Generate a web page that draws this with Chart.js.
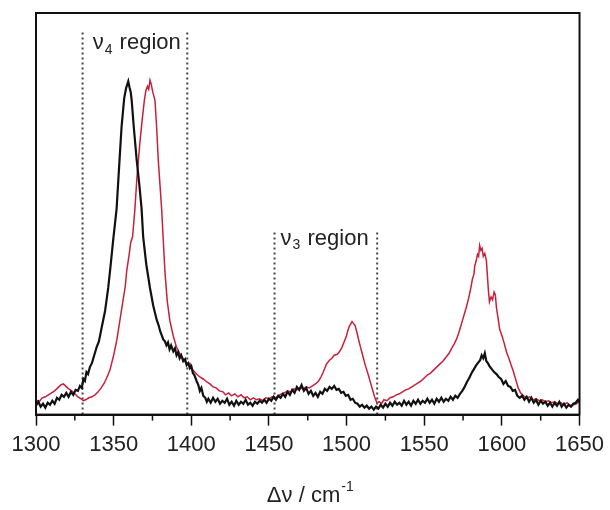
<!DOCTYPE html>
<html>
<head>
<meta charset="utf-8">
<script src="https://cdn.jsdelivr.net/npm/chart.js@4"></script>
<style>
  html, body { margin: 0; padding: 0; background: #fff; }
</style>
</head>
<body>
<canvas id="chart" width="610" height="510"></canvas>
<script>
// Raman-spektrit, arvot luettu kuvasta (mielivaltainen intensiteetti)
const blackX = [1300,1301.5,1303,1304.5,1306,1307.5,1309,1310.5,1312,1313.5,1315,1316.5,1318,1319.5,1321,1322.5,1324,1325.5,1327,1328.3,1329.5,1330.5,1331.5,1332.5,1333.5,1334.7,1336,1337.5,1339,1340.5,1342.3,1344.5,1346.5,1348,1349.8,1351.9,1353.5,1355.1,1356.8,1358,1358.8,1359.4,1360.2,1361,1361.6,1363,1364.8,1366.5,1368,1369,1371,1373.4,1375.5,1377.7,1379,1380,1381,1381.9,1383,1384,1385,1386,1387,1388.4,1389.5,1390.5,1391.5,1392.5,1393.5,1394.8,1396,1397,1398,1399.1,1400,1401,1402,1403.4,1404.5,1405.5,1406.5,1407.7,1409,1410,1411,1412.5,1414,1415.5,1417,1418.5,1420,1421.5,1423,1424.5,1426,1427.5,1429,1430.5,1432,1433.5,1435,1436.5,1438,1439.5,1441,1442.5,1444,1445.5,1447,1448.5,1450,1451.5,1453,1454.5,1456,1457.5,1459,1460.5,1462,1463.5,1465,1466.5,1468,1469.5,1471,1472.5,1474,1475.5,1477,1478.5,1480,1481.5,1483,1484.5,1486,1487.5,1489,1490.5,1492,1493.5,1495,1496.5,1498,1499.5,1501,1502.5,1504,1505.5,1507,1508.5,1510,1511.5,1513,1514.5,1516,1517.5,1519,1520.5,1522,1523.5,1525,1526.5,1528,1529.5,1531,1532.5,1534,1535.5,1537,1538.5,1540,1541.5,1543,1544.5,1546,1547.5,1549,1550.5,1552,1553.5,1555,1556.5,1558,1559.5,1561,1562.5,1564,1565.5,1567,1568.5,1570,1571.5,1573,1574.5,1576,1577.5,1579,1580.5,1582,1583.5,1585,1586,1587,1588,1589,1590,1591,1592,1593.5,1595,1596.5,1598,1599.5,1601,1602.5,1604,1605.5,1607,1608.5,1610,1611.5,1613,1614.5,1616,1617.5,1619,1620.5,1622,1623.5,1625,1626.5,1628,1629.5,1631,1632.5,1634,1635.5,1637,1638.5,1640,1641.5,1643,1644.5,1646,1647.5,1649,1650];
const blackY = [9,13,8,11,7,12,10,14,11,17,15,20,18,22,18,23,20,25,24,29,27,36,34,43,41,48,52,60,68,74,88,105,128,150,178,208,250,291,320,330,334,337,331,326,318,290,258,233,208,180,152,128,110,96,90,84,80,76,74,70,73,66,70,64,67,60,63,57,60,54,56,50,52,47,49,42,40,34,30,24,27,19,17,13,16,12,17,13,16,11,14,12,16,10,13,9,14,10,13,11,15,10,12,9,13,11,14,12,15,12,16,14,18,15,19,17,21,18,23,20,25,22,28,25,30,24,27,21,24,19,22,18,23,21,26,24,28,26,29,25,26,22,23,19,20,15,16,12,11,8,10,7,9,6,8,5,8,6,10,7,11,8,12,9,13,10,12,9,14,10,13,9,14,11,15,11,14,12,16,12,15,11,16,13,17,13,16,14,18,15,19,17,21,24,28,33,37,42,46,50,53,55,60,57,62,54,52,49,46,43,41,38,36,31,34,29,28,24,25,19,17,19,15,18,13,17,12,15,10,14,11,13,9,12,8,12,9,13,8,11,7,10,8,11,12,15,13];

const redX = [1300,1302,1304,1306,1308,1310,1312,1314,1316,1317.6,1319,1321,1323,1325,1327,1329,1330.4,1332,1334,1336,1338,1340,1342,1344,1345.5,1347.6,1350,1352,1354,1356,1357.5,1358.4,1360,1361,1362.2,1363.7,1365,1366.9,1368.5,1369.8,1370.8,1371.8,1372.6,1373.4,1374.2,1375.2,1376.6,1377.7,1378.7,1379.8,1380.9,1381.9,1383,1384.5,1386.2,1388.3,1390.5,1392.5,1395,1397,1399,1401,1403.4,1405.5,1407.7,1410,1412,1414,1416,1418,1420.4,1422,1424,1426,1428,1430,1432,1434,1436,1438,1440,1442,1444,1446,1448,1450,1452,1454,1456,1458,1460,1462,1464,1466,1468,1470,1472,1474,1476,1478,1480,1482,1483.5,1485,1487,1489,1490.5,1492,1494,1495.6,1497,1498.5,1500,1500.8,1502,1503.5,1504.5,1505.5,1506.5,1508.5,1510,1512,1514,1516,1518,1519.5,1521,1522.5,1524,1526,1528,1530,1532,1534,1536,1538,1540,1542,1544,1546,1548,1550,1552,1554,1556,1558,1560,1562,1564,1566,1568,1569.5,1571,1572.5,1574,1575.5,1577,1578.5,1580,1581,1582,1582.5,1583.5,1584.3,1585,1585.7,1586.5,1587.3,1588,1589,1590,1590.7,1591.3,1592,1593,1594,1595,1595.8,1596.5,1597.3,1598.6,1600,1601.5,1603,1604.5,1606,1607.5,1609,1610.5,1612,1614,1616,1618,1620,1622,1624,1626,1628,1630,1632,1634,1636,1638,1640,1642,1644,1646,1648,1650];
const redY = [15,13,17,18,20,22,24,27,30,31,29,26,24,21,18,16,14,15,17,18,20,23,27,32,37,45,60,75,95,115,130,145,162,174,180,208,240,275,300,318,328,332,329,338,334,326,318,290,258,233,208,178,145,115,95,80,68,62,56,51,52,45,41,38,36,33,31,28,27,24,23,20,22,19,21,18,20,17,18,15,17,15,16,14,17,16,18,17,19,21,22,24,23,26,25,27,26,28,27,29,31,34,38,43,51,55,57,60,61,64,68,74,80,85,90,94,92,90,84,71,62,50,40,29,18,12,13,11,15,14,17,18,20,21,23,25,26,28,30,32,34,37,40,42,45,48,51,54,58,62,68,72,77,84,92,100,108,117,128,137,142,150,156,162,160,171,166,168,160,163,156,140,126,114,119,116,124,121,108,100,86,80,72,63,57,50,43,35,27,22,19,17,18,15,16,14,15,13,14,12,13,11,12,10,12,9,10,11,13];

// Katkoviivat: alueiden rajat ja niiden yläpää
const regionBounds = [1330, 1397.4, 1453.6, 1519.7];
const regionTops = [389, 389, 187, 187];
// Alueiden nimet (ν + alaindeksi + " region")
const regionSubs = ['4', '3'];
const regionLabelX = [1336.5, 1457.5];
const regionLabelY = [376, 178];

const xTicks = [1300, 1350, 1400, 1450, 1500, 1550, 1600, 1650];

const FONT = '"Liberation Sans", Arial, sans-serif';

function toPoints(xs, ys) {
  return xs.map((x, i) => ({ x, y: ys[i] }));
}

const dotted = regionBounds.map((b, i) => ({
  data: [{ x: b, y: 0 }, { x: b, y: regionTops[i] }],
  borderColor: '#444',
  borderWidth: 2,
  borderDash: [2, 3],
  pointRadius: 0,
  order: 5
}));

// Kehys, pienet väliviivat, alueiden tekstit ja akselin otsikko
const decorations = {
  id: 'decorations',
  afterDraw(chart) {
    const { ctx, chartArea: a, scales: { x, y } } = chart;
    ctx.save();
    ctx.strokeStyle = '#111';
    ctx.lineWidth = 2;
    ctx.strokeRect(a.left, a.top, a.right - a.left, a.bottom - a.top);

    ctx.lineWidth = 1.5;
    for (let v = 1325; v < 1650; v += 50) {
      const px = x.getPixelForValue(v);
      ctx.beginPath();
      ctx.moveTo(px, a.bottom);
      ctx.lineTo(px, a.bottom + 6);
      ctx.stroke();
    }

    ctx.fillStyle = '#222';
    ctx.textBaseline = 'middle';
    regionSubs.forEach((sub, i) => {
      let px = x.getPixelForValue(regionLabelX[i]);
      const py = y.getPixelForValue(regionLabelY[i]);
      ctx.font = '22px ' + FONT;
      ctx.fillText('ν', px, py);
      px += ctx.measureText('ν').width + 1;
      ctx.font = '14px ' + FONT;
      ctx.fillText(sub, px, py + 7);
      px += ctx.measureText(sub).width + 1;
      ctx.font = '22px ' + FONT;
      ctx.fillText(' region', px, py);
    });

    // Akselin otsikko: Δν / cm⁻¹
    ctx.font = '22px ' + FONT;
    const main = 'Δν / cm';
    const wMain = ctx.measureText(main).width;
    ctx.font = '14px ' + FONT;
    const wSup = ctx.measureText('-1').width;
    const cx = (a.left + a.right) / 2 + 2;
    const startX = cx - (wMain + wSup) / 2;
    const ty = 496;
    ctx.font = '22px ' + FONT;
    ctx.fillText(main, startX, ty);
    ctx.font = '14px ' + FONT;
    ctx.fillText('-1', startX + wMain + 1, ty - 9);
    ctx.restore();
  }
};

new Chart(document.getElementById('chart').getContext('2d'), {
  type: 'line',
  data: {
    datasets: [
      {
        label: 'musta',
        data: toPoints(blackX, blackY),
        borderColor: '#111',
        borderWidth: 2.2,
        pointRadius: 0,
        tension: 0,
        order: 1
      },
      {
        label: 'punainen',
        data: toPoints(redX, redY),
        borderColor: '#c8203c',
        borderWidth: 1.5,
        pointRadius: 0,
        tension: 0,
        order: 2
      },
      ...dotted
    ]
  },
  options: {
    responsive: false,
    animation: false,
    layout: { padding: { left: 36, right: 30, top: 13, bottom: 46 } },
    plugins: {
      legend: { display: false },
      tooltip: { enabled: false }
    },
    scales: {
      x: {
        type: 'linear',
        min: 1300,
        max: 1650,
        afterBuildTicks: (axis) => { axis.ticks = xTicks.map(v => ({ value: v })); },
        ticks: {
          color: '#222',
          font: { family: FONT, size: 22 },
          padding: 6,
          maxRotation: 0,
          autoSkip: false,
          callback: (v) => String(v)
        },
        grid: {
          drawOnChartArea: false,
          tickLength: 11,
          tickColor: '#111',
          tickWidth: 1.5
        },
        border: { display: true, color: '#111', width: 2 }
      },
      y: {
        display: false,
        min: 0,
        max: 406
      }
    }
  },
  plugins: [decorations]
});
</script>
</body>
</html>
